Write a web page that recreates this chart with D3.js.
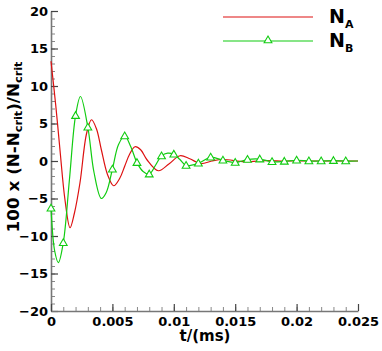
<!DOCTYPE html>
<html>
<head>
<meta charset="utf-8">
<script src="https://cdn.jsdelivr.net/npm/d3@7"></script>
<style>
  body { margin: 0; background: #fff; }
  text { font-family: "DejaVu Sans", sans-serif; font-weight: bold; }
</style>
</head>
<body>
<div id="chart"></div>
<script>
const width = 382, height = 351;
const margin = {top: 11, right: 24, bottom: 40, left: 51};

// N_A (red line)
var tA = [0, 0.0004, 0.00073, 0.00114, 0.00155, 0.0019, 0.00236, 0.0029, 0.0033, 0.0037, 0.0041,
          0.0046, 0.0051, 0.0056, 0.006, 0.0064, 0.00684, 0.0073, 0.0078, 0.00874, 0.0096, 0.0105,
          0.0113, 0.0122, 0.0131, 0.014, 0.0158, 0.0175, 0.019, 0.021, 0.023, 0.025];
var nA = [13.3, 7.2, 1.5, -5.2, -8.9, -7.0, -2.9, 3.7, 5.5, 4.3, 1.5,
          -1.8, -3.3, -2.3, -0.7, 0.9, 1.9, 1.5, 0.2, -1.3, -0.4, 0.7,
          0.3, -0.35, 0.0, 0.2, -0.1, 0.05, 0, 0, 0, 0];

// N_B (green line, triangles every 0.001)
var tB = [0, 0.0003, 0.0006, 0.001, 0.0015, 0.002, 0.0024, 0.003, 0.0035, 0.0041, 0.0045,
          0.005, 0.0055, 0.006, 0.0065, 0.007, 0.0075, 0.008, 0.0085, 0.009, 0.0095, 0.01,
          0.0105, 0.011, 0.012, 0.013, 0.014, 0.015, 0.016, 0.017, 0.018, 0.019, 0.02,
          0.021, 0.022, 0.023, 0.024, 0.025];
var nB = [-6.3, -12.0, -13.55, -10.9, -2.5, 6.05, 8.6, 4.5, -1.5, -5.0, -4.2,
          -1.1, 2.2, 3.33, 1.9, -0.22, -1.4, -1.75, -0.6, 0.67, 1.05, 0.89,
          0.2, -0.6, -0.3, 0.5, 0.1, -0.2, 0.2, 0.25, -0.1, -0.05, 0.1,
          0, 0, 0.05, 0, 0];
var markStep = 0.001;

var xTicks = [0, 0.005, 0.01, 0.015, 0.02, 0.025];
var xTickLabels = ["0", "0.005", "0.01", "0.015", "0.02", "0.025"];
var yTicks = [-20, -15, -10, -5, 0, 5, 10, 15, 20];

let svg = d3.select("#chart")
    .append("svg")
    .attr("width", width)
    .attr("height", height);

let x = d3.scaleLinear()
    .domain([0, 0.025])
    .range([margin.left, width - margin.right - 0]);

let y = d3.scaleLinear()
    .domain([-20, 20])
    .range([height - margin.bottom, margin.top]);

// minor ticks
svg.append("g")
    .attr("class", "minor")
    .attr("transform", `translate(${margin.left}, 0)`)
    .call(d3.axisLeft(y).tickValues(d3.range(-20, 21, 1)).tickSize(-4).tickSizeOuter(0).tickFormat(""));
svg.append("g")
    .attr("class", "minor")
    .attr("transform", `translate(0, ${height - margin.bottom})`)
    .call(d3.axisBottom(x).tickValues(d3.range(0, 26, 1).map(function(d) { return d / 1000; })).tickSize(-4).tickSizeOuter(0).tickFormat(""));
svg.selectAll(".minor line").attr("stroke", "#888");
svg.selectAll(".minor path").remove();

// major ticks + labels
let yAxis = svg.append("g")
    .attr("transform", `translate(${margin.left}, 0)`)
    .call(d3.axisLeft(y).tickValues(yTicks).tickSize(-7).tickSizeOuter(0).tickPadding(3));
let xAxis = svg.append("g")
    .attr("transform", `translate(0, ${height - margin.bottom})`)
    .call(d3.axisBottom(x).tickValues(xTicks).tickSize(-7).tickSizeOuter(0).tickPadding(6)
        .tickFormat(function(d, i) { return xTickLabels[i]; }));

[xAxis, yAxis].forEach(function(a) {
    a.selectAll("path").attr("stroke", "#777").attr("stroke-width", 1.6);
    a.selectAll("line").attr("stroke", "#444").attr("stroke-width", 1.2);
    a.selectAll("text")
        .attr("fill", "#000")
        .style("font-size", "13px")
        .style("font-family", "DejaVu Sans")
        .style("font-weight", "bold");
});

let plot = svg.append("g");

let line = d3.line()
    .x(function(d) { return x(d[0]); })
    .y(function(d) { return y(d[1]); })
    .curve(d3.curveCatmullRom.alpha(0.5));

let dataA = tA.map(function(t, i) { return [t, nA[i]]; });
let dataB = tB.map(function(t, i) { return [t, nB[i]]; });

plot.append("path")
    .datum(dataA)
    .attr("fill", "none")
    .attr("stroke", "#dd1111")
    .attr("stroke-width", 1.2)
    .attr("d", line);

plot.append("path")
    .datum(dataB)
    .attr("fill", "none")
    .attr("stroke", "#11cc11")
    .attr("stroke-width", 1.2)
    .attr("d", line);

let tri = d3.symbol().type(d3.symbolTriangle).size(26);

let marks = dataB.filter(function(d) {
    let k = d[0] / markStep;
    return Math.abs(k - Math.round(k)) < 1e-6 && d[0] < 0.0245;
});

plot.selectAll(".mark")
    .data(marks)
    .enter()
    .append("path")
    .attr("class", "mark")
    .attr("transform", function(d) { return `translate(${x(d[0])}, ${y(d[1]) + 0.5})`; })
    .attr("d", tri)
    .attr("fill", "#fff")
    .attr("stroke", "#11cc11")
    .attr("stroke-width", 1.1);

// legend
let legend = svg.append("g");
let legendItems = [
    {name: "N", sub: "A", color: "#dd1111", y: 17, mark: false},
    {name: "N", sub: "B", color: "#11cc11", y: 41, mark: true}
];
legendItems.forEach(function(d) {
    legend.append("line")
        .attr("x1", 223).attr("x2", 313)
        .attr("y1", d.y).attr("y2", d.y)
        .attr("stroke", d.color)
        .attr("stroke-width", 1.1);
    if (d.mark) {
        legend.append("path")
            .attr("transform", `translate(268, ${d.y - 0.5})`)
            .attr("d", tri)
            .attr("fill", "#fff")
            .attr("stroke", d.color)
            .attr("stroke-width", 1.1);
    }
    let t = legend.append("text")
        .attr("x", 329)
        .attr("y", d.y + 6)
        .style("font-size", "19px")
        .text(d.name);
    t.append("tspan")
        .attr("dy", 5)
        .style("font-size", "11px")
        .text(d.sub);
});

// x-axis label
svg.append("text")
    .attr("x", 205)
    .attr("y", 341)
    .style("text-anchor", "middle")
    .style("font-size", "15px")
    .text("t/(ms)");

// y-axis label (stretched a bit along its length, like the original)
let ylab = svg.append("text")
    .attr("transform", `translate(18.5, 147) rotate(-90) scale(1.12, 1)`)
    .style("text-anchor", "middle")
    .style("font-size", "15px");
ylab.append("tspan").text("100 x (N-N");
ylab.append("tspan").attr("dy", 3).style("font-size", "10px").text("crit");
ylab.append("tspan").attr("dy", -3).text(")/N");
ylab.append("tspan").attr("dy", 3).style("font-size", "10px").text("crit");
</script>
</body>
</html>
